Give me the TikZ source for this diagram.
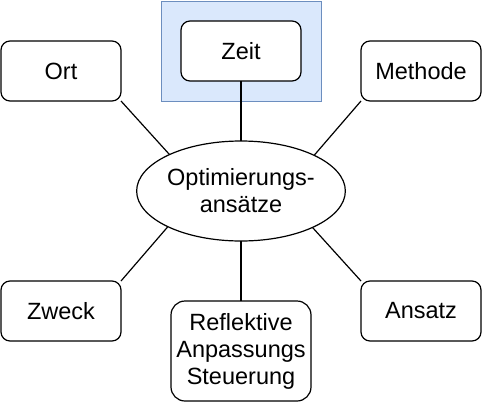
\documentclass[tikz,border=0pt]{standalone}
\usepackage{fontspec}
\setmainfont{Liberation Sans}
\usetikzlibrary{shapes,arrows}

\begin{document}
\begin{tikzpicture}[x=1pt,y=-1pt]
    % Define block styles
    \tikzstyle{box} = [rectangle, rounded corners=9pt, minimum width=120pt, minimum height=60pt, inner sep=0pt, outer sep=0pt, text centered, draw=black, fill=white, line width=1.2pt, font=\fontsize{23.5}{27}\selectfont]
    \tikzstyle{bigbox} = [box, rounded corners=14pt, minimum width=140pt, minimum height=100pt, align=center]
    \tikzstyle{center} = [ellipse, minimum width=200pt, minimum height=100pt, inner sep=0pt, outer sep=0pt, align=center, draw=black, line width=1.2pt, font=\fontsize{23.5}{27}\selectfont]
    \tikzstyle{highlight} = [rectangle, minimum width=160pt, minimum height=100pt, inner sep=0pt, outer sep=0pt, draw={rgb,255:red,108;green,142;blue,191}, fill={rgb,255:red,218;green,232;blue,252}, line width=1pt]
    \tikzstyle{line} = [line width=1.2pt]

    \useasboundingbox (0,0) rectangle (482,402);

    % Draw nodes
    \node (frame) [highlight] at (241,51) {};
    \node (zeit) [box] at (241,51) {Zeit};
    \node (ort) [box] at (61,71) {Ort};
    \node (methode) [box] at (421,71) {Methode};
    \node (opt) [center] at (241,191) {Optimierungs-\\ansätze};
    \node (zweck) [box] at (61,311) {Zweck};
    \node (ansatz) [box] at (421,311) {Ansatz};
    \node (refl) [bigbox] at (241,351) {Reflektive\\Anpassungs\\Steuerung};

    % Draw edges
    \draw [line] (zeit) -- (opt);
    \draw [line] (ort.south east) -- (opt.153.4);
    \draw [line] (methode.south west) -- (opt.26.6);
    \draw [line] (zweck.north east) -- (opt.206.6);
    \draw [line] (ansatz.north west) -- (opt.333.4);
    \draw [line] (refl) -- (opt);

\end{tikzpicture}
\end{document}
